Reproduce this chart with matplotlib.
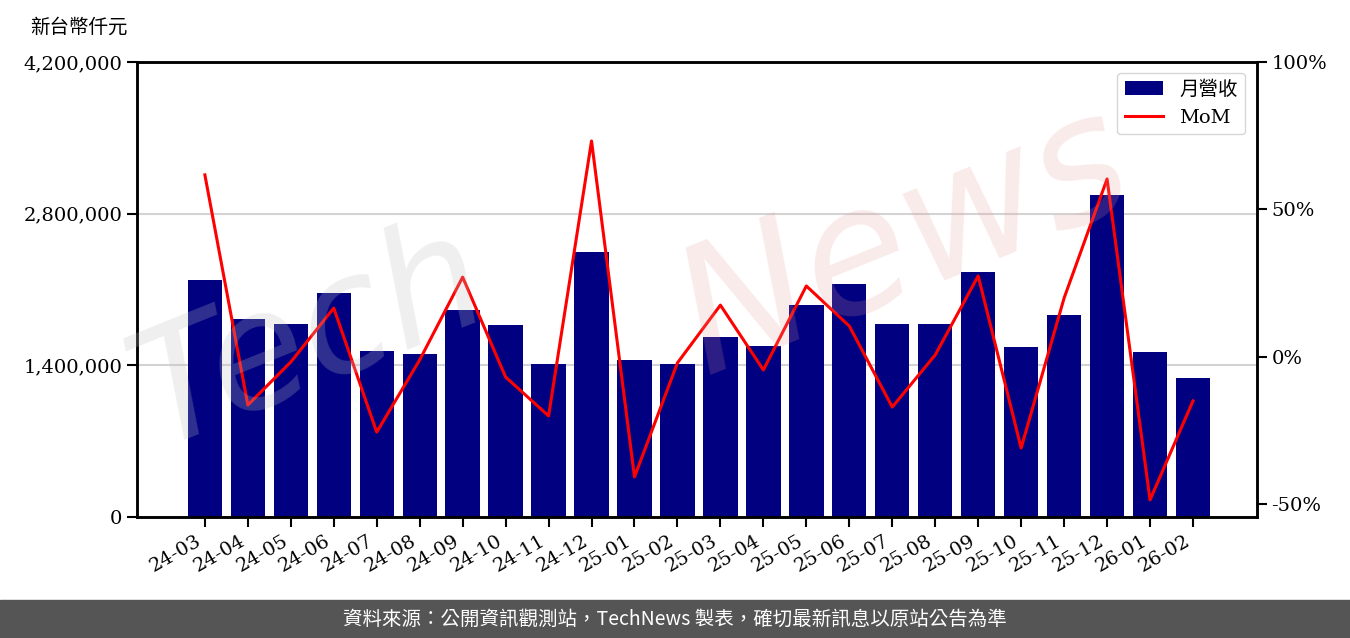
import matplotlib
matplotlib.use("Agg")
import matplotlib.pyplot as plt
from matplotlib.patches import Rectangle
from matplotlib.ticker import FuncFormatter, FixedLocator
import numpy as np

months = ["24-03", "24-04", "24-05", "24-06", "24-07", "24-08", "24-09", "24-10",
          "24-11", "24-12", "25-01", "25-02", "25-03", "25-04", "25-05", "25-06",
          "25-07", "25-08", "25-09", "25-10", "25-11", "25-12", "26-01", "26-02"]
revenue = [2187700, 1827700, 1781500, 2067700, 1532300, 1504600, 1910800, 1772300,
           1412300, 2446200, 1449200, 1412300, 1661500, 1578500, 1956900, 2150800,
           1781500, 1781500, 2261500, 1569200, 1864600, 2972300, 1523100, 1283100]
mom = [61.7, -16.4, -1.8, 16.5, -25.6, -1.1, 27.0, -6.9,
       -20.1, 73.2, -40.8, -2.1, 17.5, -4.5, 24.0, 10.4,
       -17.1, 0.6, 27.4, -31.0, 19.9, 60.3, -48.6, -15.0]
left_ticks = [0, 1400000, 2800000, 4200000]
right_ticks = [-50, 0, 50, 100]

plt.rcParams['font.family'] = ['DejaVu Serif', 'Noto Sans CJK TC']
plt.rcParams['axes.unicode_minus'] = False

fig = plt.figure(figsize=(13.5, 6.38), dpi=100)
ax = fig.add_axes([137/1350, 1-517/638, (1257-137)/1350, (517-62)/638])
ax2 = ax.twinx()

x = np.arange(len(months))
ax.set_axisbelow(True)
ax.yaxis.grid(True, color='#d3d3d3', lw=1.5)
bars = ax.bar(x, revenue, width=0.8, color='#000080', label='月營收', zorder=2)
line, = ax2.plot(x, mom, color='#ff0000', lw=2.2, label='MoM')

ax.set_xlim(-1.58, 24.49)
ax.set_ylim(0, 4200000)
ax.yaxis.set_major_locator(FixedLocator(left_ticks))
ax.yaxis.set_major_formatter(FuncFormatter(lambda v, p: f"{int(v):,}"))
ax2.set_ylim(-54.4, 100)
ax2.yaxis.set_major_locator(FixedLocator(right_ticks))
ax2.yaxis.set_major_formatter(FuncFormatter(lambda v, p: f"{int(v)}%"))

ax.set_xticks(x)
ax.set_xticklabels(months, rotation=30, ha='right')

for a in (ax, ax2):
    for s in a.spines.values():
        s.set_linewidth(1.8)
    a.tick_params(labelsize=14, width=1.5, length=7)

fig.text(30/1350, 1-27/638, "新台幣仟元", fontsize=14, va='center', ha='left',
         family=['Noto Sans CJK TC'])

leg = ax2.legend([bars, line], ['月營收', 'MoM'], loc='upper right', fontsize=14,
                 frameon=True, fancybox=True, edgecolor='#cccccc',
                 bbox_to_anchor=(0.993, 0.985), borderaxespad=0.2)

# watermark
fig.text(0.23, 0.47, "Tech", fontsize=115, color='#c0c0c0', alpha=0.25,
         rotation=22, ha='center', va='center', family='DejaVu Sans',
         style='italic', zorder=10)
fig.text(0.67, 0.62, "News", fontsize=125, color='#e89a9a', alpha=0.2,
         rotation=22, ha='center', va='center', family='DejaVu Sans',
         style='italic', zorder=10)

# footer banner
fig.patches.append(Rectangle((0, 0), 1, 38/638, transform=fig.transFigure,
                             color='#555555', zorder=0))
fig.text(0.5, 19/638, "資料來源：公開資訊觀測站，TechNews 製表，確切最新訊息以原站公告為準",
         color='white', fontsize=14, ha='center', va='center',
         family=['Noto Sans CJK TC'])

fig.savefig("out.png", dpi=100)
